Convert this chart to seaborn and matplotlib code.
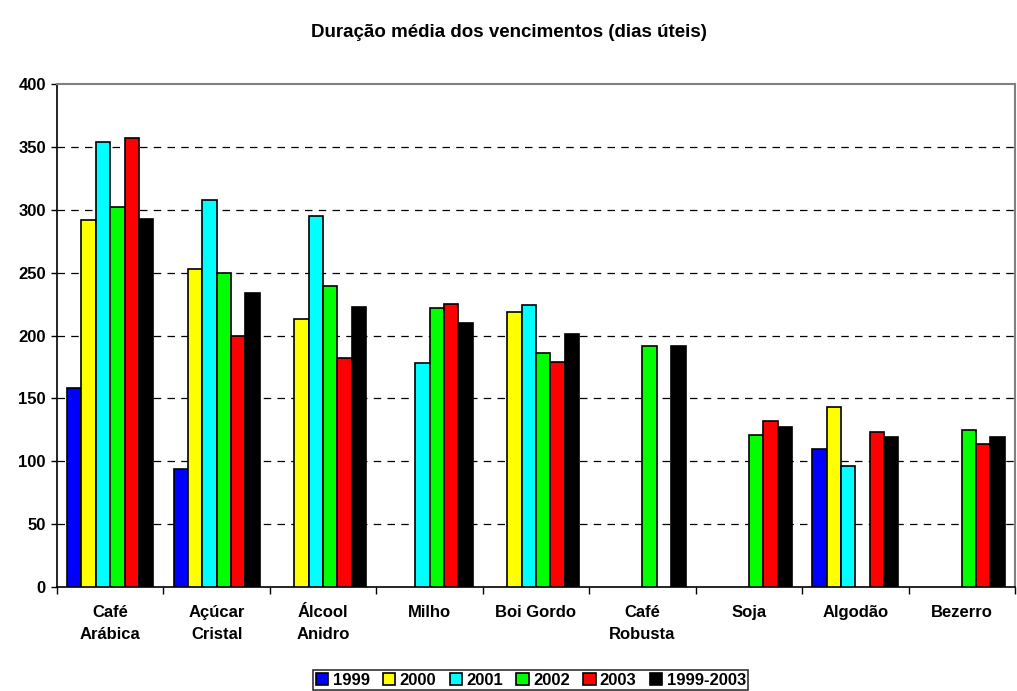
import seaborn as sns
import pandas as pd
import numpy as np
import matplotlib.pyplot as plt

# produtos e series (dias uteis)
produtos = ["Café\nArábica", "Açúcar\nCristal", "Álcool\nAnidro", "Milho", "Boi Gordo",
            "Café\nRobusta", "Soja", "Algodão", "Bezerro"]
series = ["1999", "2000", "2001", "2002", "2003", "1999-2003"]
cores = ["#0000ff", "#ffff00", "#00ffff", "#00ff00", "#ff0000", "#000000"]

v1999 = [158, 94, np.nan, np.nan, np.nan, np.nan, np.nan, 110, np.nan]
v2000 = [292, 253, 213, np.nan, 219, np.nan, np.nan, 143, np.nan]
v2001 = [354, 308, 295, 178, 224, np.nan, np.nan, 96, np.nan]
v2002 = [302, 250, 239, 222, 186, 192, 121, np.nan, 125]
v2003 = [357, 200, 182, 225, 179, np.nan, 132, 123, 114]
v9903 = [293, 234, 223, 210, 201, 192, 127, 119, 119]

valores = [v1999, v2000, v2001, v2002, v2003, v9903]
df = pd.DataFrame([(p, s, v) for s, vals in zip(series, valores) for p, v in zip(produtos, vals)],
                  columns=["produto", "serie", "dias"])

sns.set_style("white")
plt.rcParams['font.family'] = ['Liberation Sans', 'DejaVu Sans']
plt.rcParams['text.color'] = 'black'
plt.rcParams['xtick.color'] = 'black'
plt.rcParams['ytick.color'] = 'black'

fig = plt.figure(figsize=(10.17, 6.91), dpi=100)
ax = fig.add_axes([0.056, 0.1505, 0.942, 0.7279])

sns.barplot(data=df, x="produto", y="dias", hue="serie", order=produtos, hue_order=series,
            palette=dict(zip(series, cores)), width=0.81, errorbar=None,
            edgecolor="black", linewidth=1.2, saturation=1, ax=ax, zorder=3)

ax.set_ylim(0, 400)
ax.set_xlim(-0.5, len(produtos) - 0.5)
ax.set_yticks(range(0, 401, 50))
ax.set_yticklabels([str(t) for t in range(0, 401, 50)], fontsize=12, fontweight="bold")
ax.set_xticklabels(produtos, fontsize=12, fontweight="bold", linespacing=1.55)
ax.set_xlabel("")
ax.set_ylabel("")

# linhas de grade tracejadas
for y in range(50, 400, 50):
    ax.axhline(y, color="black", linestyle=(0, (6, 5)), linewidth=0.9, zorder=1)

ax.tick_params(axis="x", length=0, pad=13)
ax.tick_params(axis="y", length=4, width=1, left=True, direction="out", pad=4)
ax.set_xticks(np.arange(-0.5, len(produtos)), minor=True)
ax.tick_params(axis="x", which="minor", length=5, width=1, bottom=True, direction="out")

for s in ["left", "bottom"]:
    ax.spines[s].set_color("black")
    ax.spines[s].set_linewidth(1.2)
for s in ["top", "right"]:
    ax.spines[s].set_color("#808080")
    ax.spines[s].set_linewidth(1.5)

fig.suptitle("Duração média dos vencimentos (dias úteis)", y=0.965, fontsize=13.5, fontweight="bold")

handles, labels = ax.get_legend_handles_labels()
ax.get_legend().remove()
leg = fig.legend(handles, labels, loc="lower center", bbox_to_anchor=(0.522, -0.004), ncol=6,
                 frameon=True, fancybox=False, edgecolor="black", handlelength=0.75,
                 handleheight=0.75, handletextpad=0.25, columnspacing=0.8, borderpad=0.15,
                 borderaxespad=0.2, prop={"weight": "bold", "size": 12})
leg.get_frame().set_linewidth(1.2)

fig.savefig("out.png", dpi=100)
